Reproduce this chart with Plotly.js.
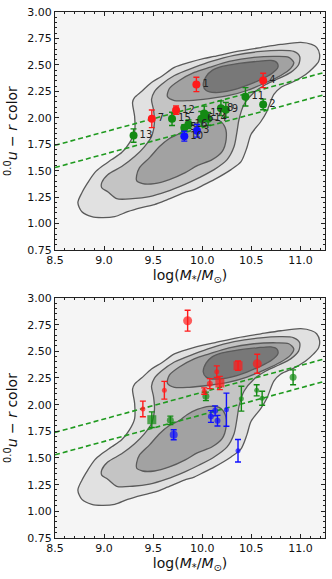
<!DOCTYPE html>
<html><head><meta charset="utf-8">
<script src="https://cdn.plot.ly/plotly-3.0.1.min.js"></script>
<style>html,body{margin:0;padding:0;background:#fff}#chart{width:332px;height:579px}</style>
</head><body><div id="chart"></div>
<script>
// Density contour outlines, levels 1 (outer) to 4 (inner)
const lvl1X = [8.733,8.774,8.834,8.905,8.976,9.078,9.179,9.260,9.311,9.311,9.290,9.311,9.381,9.483,9.584,9.716,9.868,10.020,10.121,10.354,10.597,10.800,11.003,11.114,11.165,11.195,11.185,11.134,11.053,10.932,10.800,10.729,10.658,10.597,10.496,10.455,10.395,10.293,10.121,10.020,9.918,9.817,9.645,9.513,9.381,9.240,9.108,8.976,8.875,8.774];
const lvl1Y = [1.198,1.292,1.387,1.482,1.539,1.605,1.671,1.766,1.870,2.012,2.145,2.192,2.249,2.334,2.391,2.476,2.523,2.561,2.580,2.627,2.664,2.693,2.712,2.693,2.665,2.599,2.533,2.476,2.410,2.343,2.287,2.221,2.060,1.965,1.842,1.719,1.586,1.510,1.415,1.368,1.321,1.292,1.226,1.179,1.150,1.112,1.065,1.056,1.065,1.112];
const lvl2X = [9.513,9.584,9.716,9.918,10.091,10.324,10.597,10.800,10.932,10.992,10.982,10.901,10.780,10.648,10.526,10.425,10.374,10.354,10.324,10.253,10.121,9.969,9.817,9.635,9.463,9.290,9.128,9.037,8.976,8.976,9.037,9.179,9.311,9.412,9.483,9.513,9.503,9.483];
const lvl2Y = [2.248,2.315,2.400,2.476,2.533,2.590,2.627,2.637,2.627,2.580,2.504,2.429,2.372,2.315,2.239,2.126,1.984,1.870,1.728,1.605,1.510,1.434,1.368,1.301,1.254,1.235,1.235,1.301,1.339,1.387,1.462,1.539,1.633,1.728,1.823,1.955,2.078,2.173];
const lvl3aX = [9.645,9.665,9.766,9.918,10.071,10.273,10.526,10.759,10.881,10.932,10.901,10.800,10.628,10.455,10.273,10.071,9.868,9.716];
const lvl3aY = [2.201,2.277,2.353,2.429,2.476,2.533,2.571,2.580,2.571,2.523,2.467,2.400,2.324,2.258,2.211,2.182,2.163,2.163];
const lvl3bX = [9.331,9.361,9.463,9.564,9.665,9.766,9.848,9.949,10.071,10.172,10.233,10.243,10.202,10.101,9.949,9.827,9.665,9.513,9.392,9.331];
const lvl3bY = [1.453,1.529,1.623,1.728,1.804,1.851,1.908,1.955,1.984,1.974,1.908,1.794,1.681,1.605,1.548,1.482,1.416,1.378,1.378,1.406];
const lvl4X = [10.010,10.040,10.101,10.202,10.374,10.557,10.699,10.759,10.770,10.709,10.597,10.455,10.293,10.131,10.040];
const lvl4Y = [2.306,2.391,2.448,2.485,2.514,2.533,2.542,2.523,2.476,2.419,2.362,2.306,2.258,2.239,2.258];

// Dashed division lines
const lineX = [8.5, 11.25];
const upperY = [1.74, 2.43];
const lowerY = [1.53, 2.22];

// Top panel: labelled points
const topRedX = [9.940, 10.620, 9.486, 9.733];
const topRedY = [2.315, 2.353, 1.990, 2.072];
const topRedE = [0.068, 0.068, 0.083, 0.040];
const topRedL = ['1','4','7','12'];
const topGreenX = [9.300, 9.692, 9.817, 9.860, 9.990, 10.020, 10.060, 10.190, 10.240, 10.440, 10.620];
const topGreenY = [1.832, 1.990, 1.905, 1.940, 1.990, 2.040, 1.990, 2.090, 2.075, 2.198, 2.126];
const topGreenE = [0.063, 0.063, 0.030, 0.040, 0.070, 0.070, 0.060, 0.070, 0.070, 0.087, 0.050];
const topGreenL = ['13','15','5','16','6','17','14','8','9','11','2'];
const topBlueX = [9.817, 9.946];
const topBlueY = [1.826, 1.877];
const topBlueE = [0.047, 0.060];
const topBlueL = ['10','3'];

// Bottom panel points
const botRedX = [9.851, 9.395, 9.614, 10.020, 10.077, 10.148, 10.179, 10.364, 10.560];
const botRedY = [2.787, 1.960, 2.135, 2.127, 2.197, 2.309, 2.203, 2.365, 2.384];
const botRedE = [0.098, 0.073, 0.083, 0.030, 0.047, 0.055, 0.062, 0.044, 0.089];
const botRedS = ['circle','circle','circle','circle','circle','circle','square','square','circle'];
const botRedZ = [9, 5, 5, 5, 6, 5, 9, 9, 9];
const botGreenX = [9.486, 9.675, 10.037, 10.398, 10.554, 10.610, 10.925];
const botGreenY = [1.859, 1.853, 2.078, 2.056, 2.134, 2.060, 2.256];
const botGreenE = [0.073, 0.040, 0.040, 0.117, 0.052, 0.066, 0.070];
const botGreenS = ['square','circle','circle','circle','circle','circle','circle'];
const botGreenZ = [9, 7, 7, 5, 5, 5, 7];
const botBlueX = [9.709, 10.088, 10.131, 10.155, 10.246, 10.364];
const botBlueY = [1.718, 1.889, 1.942, 1.850, 1.953, 1.568];
const botBlueE = [0.047, 0.055, 0.047, 0.050, 0.155, 0.106];
const botBlueZ = [8, 6, 6, 6, 5, 5];

const FONT = 'DejaVu Sans, sans-serif';
const levels = [
  [lvl1X, lvl1Y, '#e1e1e1'],
  [lvl2X, lvl2Y, '#c4c4c4'],
  [lvl3aX, lvl3aY, '#a2a2a2'],
  [lvl3bX, lvl3bY, '#a2a2a2'],
  [lvl4X, lvl4Y, '#787878']
];
const traces = [];
function addPanel(xa, ya, groups) {
  levels.forEach(([X, Y, col]) => {
    traces.push({x: X.concat([X[0]]), y: Y.concat([Y[0]]), xaxis: xa, yaxis: ya, type: 'scatter', mode: 'lines',
      fill: 'toself', fillcolor: col, line: {color: '#5a5a5a', width: 1.3, shape: 'spline', smoothing: 0.8},
      hoverinfo: 'skip', showlegend: false});
  });
  [upperY, lowerY].forEach(Y => {
    traces.push({x: lineX, y: Y, xaxis: xa, yaxis: ya, type: 'scatter', mode: 'lines',
      line: {color: '#1f9a1f', width: 1.6, dash: '5px,3px'}, showlegend: false, hoverinfo: 'skip'});
  });
  groups.forEach(g => {
    const t = {x: g.x, y: g.y, xaxis: xa, yaxis: ya, type: 'scatter', mode: g.text ? 'markers+text' : 'markers',
      marker: {color: g.c, size: g.size, symbol: g.sym || 'circle', line: {width: 0}},
      error_y: {type: 'data', array: g.e, visible: true, color: g.c, thickness: 1.4, width: 3},
      showlegend: false, cliponaxis: false};
    if (g.text) { t.text = g.text; t.textposition = 'middle right'; t.textfont = {size: 10, family: FONT, color: '#222'}; }
    traces.push(t);
  });
}
addPanel('x', 'y', [
  {x: topGreenX, y: topGreenY, e: topGreenE, c: '#138a13', size: 8, text: topGreenL},
  {x: topRedX, y: topRedY, e: topRedE, c: '#ff1a1a', size: 8, text: topRedL},
  {x: topBlueX, y: topBlueY, e: topBlueE, c: '#1010ff', size: 8, text: topBlueL}
]);
addPanel('x2', 'y2', [
  {x: botGreenX, y: botGreenY, e: botGreenE, c: '#138a13', size: botGreenZ, sym: botGreenS},
  {x: botRedX, y: botRedY, e: botRedE, c: '#ff1a1a', size: botRedZ, sym: botRedS},
  {x: botBlueX, y: botBlueY, e: botBlueE, c: '#1010ff', size: botBlueZ}
]);

function xaxis(dom) {
  return {domain: [0, 1], anchor: dom, range: [8.5, 11.25], tick0: 8.5, dtick: 0.5, tickformat: '.1f',
    ticks: 'inside', ticklen: 4, tickwidth: 1, tickcolor: '#222', mirror: 'allticks', showline: true,
    linecolor: '#222', linewidth: 1, showgrid: false, zeroline: false, automargin: false,
    tickfont: {size: 11, family: FONT, color: '#111'},
    minor: {ticks: 'inside', dtick: 0.1, ticklen: 2, tickcolor: '#222', showgrid: false},
    title: {text: 'log(<i>M</i><sub>*</sub>/<i>M</i><sub>⊙</sub>)', font: {size: 14, family: FONT, color: '#111'}, standoff: 3}};
}
function yaxis(anchor, dom) {
  return {domain: dom, anchor: anchor, range: [0.75, 3.0], tick0: 0.75, dtick: 0.25, tickformat: '.2f',
    ticks: 'inside', ticklen: 4, tickwidth: 1, tickcolor: '#222', mirror: 'allticks', showline: true,
    linecolor: '#222', linewidth: 1, showgrid: false, zeroline: false, automargin: false,
    tickfont: {size: 11, family: FONT, color: '#111'},
    minor: {ticks: 'inside', dtick: 0.05, ticklen: 2, tickcolor: '#222', showgrid: false},
    title: {text: '<sup>0.0</sup><i>u</i> − <i>r</i> color', font: {size: 14, family: FONT, color: '#111'}, standoff: 6}};
}
const layout = {
  width: 332, height: 579, margin: {l: 55, r: 7, t: 12, b: 41},
  paper_bgcolor: '#ffffff', plot_bgcolor: '#f5f5f5', showlegend: false,
  xaxis: xaxis('y'), yaxis: yaxis('x', [0.5475, 1]),
  xaxis2: xaxis('y2'), yaxis2: yaxis('x2', [0, 0.4563])
};
Plotly.newPlot('chart', traces, layout, {displayModeBar: false, staticPlot: true});
</script></body></html>
